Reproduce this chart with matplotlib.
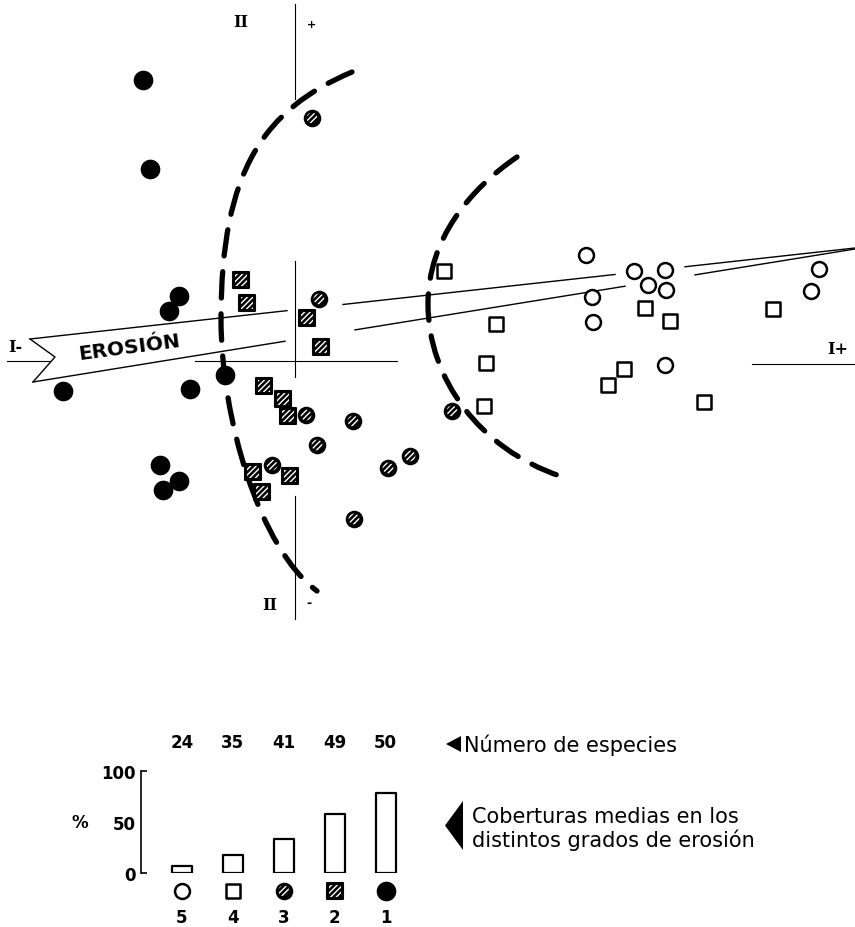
import numpy as np
import matplotlib as mpl
mpl.use('Agg')
import matplotlib.pyplot as plt
from matplotlib.path import Path
from matplotlib.patches import PathPatch, Polygon

# ordination scores (axis I, axis II) of the releves, by erosion grade
# grade 1: filled circles
g1_x = [-1.52, -1.45, -1.16, -1.26, -2.32, -1.05, -0.70, -1.35, -1.16, -1.32]
g1_y = [2.81, 1.92, 0.65, 0.50, -0.30, -0.28, -0.14, -1.04, -1.20, -1.29]
# grade 2: hatched squares
g2_x = [-0.54, -0.48, 0.12, 0.26, -0.31, -0.12, -0.07, -0.42, -0.05, -0.33]
g2_y = [0.81, 0.58, 0.43, 0.14, -0.25, -0.38, -0.55, -1.11, -1.15, -1.31]
# grade 3: hatched circles
g3_x = [0.17, 0.24, 0.11, 0.58, 0.22, -0.23, 1.15, 0.93, 0.59, 1.57]
g3_y = [2.43, 0.62, -0.54, -0.60, -0.84, -1.04, -0.95, -1.07, -1.58, -0.50]
# grade 4: open squares
g4_x = [1.49, 2.01, 1.91, 1.89, 3.50, 3.75, 3.29, 3.13, 4.09, 4.78]
g4_y = [0.90, 0.37, -0.02, -0.45, 0.53, 0.40, -0.08, -0.24, -0.41, 0.52]
# grade 5: open circles
g5_x = [2.91, 3.39, 3.70, 3.53, 3.71, 2.97, 2.98, 3.70, 5.24, 5.16]
g5_y = [1.06, 0.90, 0.91, 0.76, 0.71, 0.64, 0.39, -0.04, 0.92, 0.70]

# summary per erosion grade (5 -> 1)
grades = ['5', '4', '3', '2', '1']
grade_kind = [5, 4, 3, 2, 1]
cover = [7, 18, 33, 58, 78]
species = [24, 35, 41, 49, 50]

# dashed boundaries (bezier control points)
bound1 = [(0.57, 2.89), (-0.30, 2.52), (-0.74, 1.92), (-0.74, 0.42),
          (-0.74, -0.58), (-0.35, -1.88), (0.22, -2.30)]
bound2 = [(2.22, 2.04), (1.75, 1.72), (1.33, 1.22), (1.33, 0.57),
          (1.33, -0.18), (1.85, -0.88), (2.65, -1.15)]

# erosion ribbon edges
rib_top = [(-2.65, 0.22), (5.60, 1.13)]
rib_bot = [(-2.62, -0.21), (5.60, 1.12)]
rib_notch = (-2.40, 0.04)

plt.rcParams['font.family'] = 'DejaVu Sans'
plt.rcParams['hatch.linewidth'] = 1.0


def draw_grade(ax, x, y, kind, clip=True):
    if kind == 1:
        ax.scatter(x, y, s=200, c='black', linewidths=0, zorder=5, clip_on=clip)
    elif kind == 2:
        ax.scatter(x, y, s=145, marker='s', c='black', edgecolors='black',
                   linewidths=1.5, joinstyle='round', zorder=5, clip_on=clip)
        ax.scatter(x, y, s=70, marker='s', facecolors='none', edgecolors='white',
                   linewidths=0, hatch='//////', zorder=6, clip_on=clip)
    elif kind == 3:
        ax.scatter(x, y, s=160, c='black', linewidths=0, zorder=5, clip_on=clip)
        ax.scatter(x, y, s=60, facecolors='none', edgecolors='white',
                   linewidths=0, hatch='//////', zorder=6, clip_on=clip)
    elif kind == 4:
        ax.scatter(x, y, s=110, marker='s', facecolors='white', edgecolors='black',
                   linewidths=1.8, joinstyle='round', zorder=5, clip_on=clip)
    else:
        ax.scatter(x, y, s=115, facecolors='white', edgecolors='black',
                   linewidths=1.8, zorder=5, clip_on=clip)


def edge_at(e, xs):
    (x0, y0), (x1, y1) = e
    xs = np.asarray(xs)
    return y0 + (y1 - y0) * (xs - x0) / (x1 - x0)


fig = plt.figure(figsize=(8.55, 9.28), dpi=100)
ax = fig.add_axes([0, 0, 1, 1])
ax.set_xlim(-2.95, 5.60)
ax.set_ylim(-5.66, 3.62)
ax.axis('off')

# axes I and II
for seg in [(-2.88, -2.45), (-1.00, 1.02)]:
    ax.plot(seg, [0, 0], color='black', lw=0.8, zorder=1)
ax.plot([4.57, 5.60], [-0.03, -0.03], color='black', lw=0.8, zorder=1)
for seg in [(2.62, 3.57), (-0.16, 1.00), (-2.58, -1.35)]:
    ax.plot([0, 0], seg, color='black', lw=0.8, zorder=1)

ax.text(-0.54, 3.40, 'II', family='DejaVu Serif', weight='bold', fontsize=11.5, ha='center', va='center')
ax.text(0.16, 3.37, '+', weight='bold', fontsize=8, ha='center', va='center')
ax.text(-0.25, -2.43, 'II', family='DejaVu Serif', weight='bold', fontsize=11.5, ha='center', va='center')
ax.text(0.14, -2.41, '-', weight='bold', fontsize=9, ha='center', va='center')
ax.text(-2.80, 0.15, 'I-', family='DejaVu Serif', weight='bold', fontsize=11.5, ha='center', va='center')
ax.text(5.43, 0.13, 'I+', family='DejaVu Serif', weight='bold', fontsize=11.5, ha='center', va='center')

# erosion ribbon
xl_top, xl_bot = -0.08, -0.10
fill = Polygon([rib_top[0], (xl_top, edge_at(rib_top, xl_top)),
                (xl_bot, edge_at(rib_bot, xl_bot)), rib_bot[0], rib_notch],
               closed=True, facecolor='white', edgecolor='none', zorder=2)
ax.add_patch(fill)
ax.plot([rib_top[0][0], rib_notch[0], rib_bot[0][0]],
        [rib_top[0][1], rib_notch[1], rib_bot[0][1]], color='black', lw=1.0, zorder=3)
for a, b in [(-2.65, -0.08), (0.48, 3.20), (3.90, 5.60)]:
    ax.plot([a, b], edge_at(rib_top, [a, b]), color='black', lw=1.0, zorder=3)
for a, b in [(-2.62, -0.10), (0.60, 3.30), (4.00, 5.60)]:
    ax.plot([a, b], edge_at(rib_bot, [a, b]), color='black', lw=1.0, zorder=3)
ax.text(-1.66, 0.14, 'EROSIÓN', fontsize=14.5, weight='bold', rotation=7.5,
        rotation_mode='anchor', ha='center', va='center', zorder=4)

# dashed boundaries
codes = [Path.MOVETO] + [Path.CURVE4] * 6
for pts in [bound1, bound2]:
    pp = PathPatch(Path(pts, codes), facecolor='none', edgecolor='black', lw=3.8,
                   linestyle=(0, (5.0, 3.0)), capstyle='round', zorder=4)
    ax.add_patch(pp)

for gx, gy, k in [(g1_x, g1_y, 1), (g2_x, g2_y, 2), (g3_x, g3_y, 3),
                  (g4_x, g4_y, 4), (g5_x, g5_y, 5)]:
    draw_grade(ax, gx, gy, k)

# legend texts on the right
ax.add_patch(Polygon([(1.51, -3.83), (1.66, -3.75), (1.66, -3.91)], closed=True,
                     facecolor='black', edgecolor='none'))
ax.text(1.69, -3.83, 'Número de especies', fontsize=15, ha='left', va='center')
ax.add_patch(Polygon([(1.50, -4.645), (1.68, -4.40), (1.68, -4.89)], closed=True,
                     facecolor='black', edgecolor='none'))
ax.text(1.77, -4.67, 'Coberturas medias en los\ndistintos grados de erosión',
        fontsize=15, ha='left', va='center', linespacing=1.12)

# bar chart of mean cover
ax2 = fig.add_axes([141 / 855, 54 / 928, 260 / 855, 102 / 928])
ax2.set_facecolor('none')
pos = np.arange(len(grades))
ax2.bar(pos, cover, width=0.39, facecolor='white', edgecolor='black', lw=1.6,
        joinstyle='round')
ax2.set_xlim(-0.8, 4.3)
ax2.set_ylim(0, 100)
for s in ['top', 'right', 'bottom']:
    ax2.spines[s].set_visible(False)
ax2.spines['left'].set_linewidth(1.2)
ax2.set_yticks([0, 50, 100])
ax2.set_yticklabels(['0', '50', '100'], fontsize=12, weight='bold')
ax2.tick_params(axis='y', direction='in', length=4, width=1.2, pad=4)
ax2.yaxis.get_major_ticks()[1].tick1line.set_visible(False)
ax2.set_yticks([50], minor=True)
ax2.tick_params(axis='y', which='minor', direction='out', length=4, width=1.2)
ax2.set_xticks(pos)
ax2.set_xticklabels(grades, fontsize=12, weight='bold')
ax2.tick_params(axis='x', length=0, pad=25)
for p, n in zip(pos, species):
    ax2.text(p, 128, str(n), fontsize=12, weight='bold', ha='center', va='center')
for p, k in zip(pos, grade_kind):
    draw_grade(ax2, [p], [-17.5], k, clip=False)
ax2.text(-2.0, 50, '%', fontsize=12, weight='bold', ha='center', va='center')

fig.savefig('out.png', dpi=100)
plt.close()
